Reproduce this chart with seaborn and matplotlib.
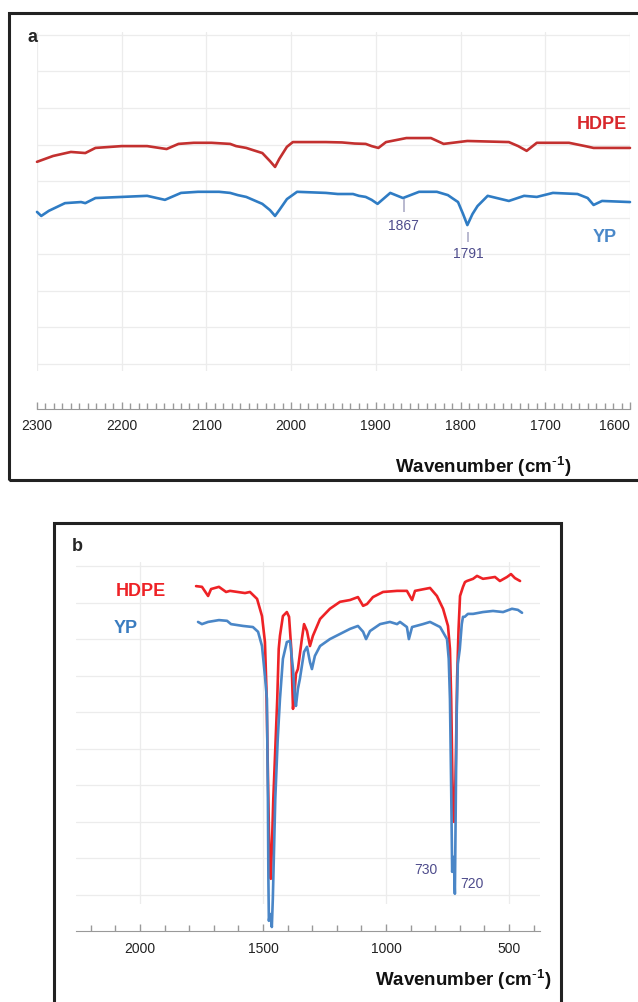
import pandas as pd
import seaborn as sns
import matplotlib.pyplot as plt
from matplotlib.patches import Rectangle
from matplotlib.ticker import MultipleLocator

# ---- panel a: 2300-1600 cm-1 (offset transmittance, a.u.) ----
a_wn_hdpe = [2300, 2281, 2260, 2243, 2231, 2200, 2170, 2147, 2133, 2115, 2094, 2072, 2065, 2053, 2045,
             2034, 2025, 2019, 2014, 2005, 1998, 1959, 1940, 1925, 1912, 1905, 1897, 1888, 1864, 1835,
             1820, 1792, 1743, 1732, 1722, 1710, 1672, 1653, 1643, 1600]
a_hdpe = [55.3, 56.9, 58.0, 57.7, 59.1, 59.6, 59.6, 58.8, 60.2, 60.5, 60.5, 60.2, 59.6, 59.1, 58.5,
          57.7, 55.5, 53.9, 56.1, 59.4, 60.7, 60.7, 60.6, 60.3, 60.2, 59.6, 59.1, 60.7, 61.8, 61.8,
          60.2, 61.0, 60.7, 59.6, 58.3, 60.5, 60.5, 59.6, 59.1, 59.1]
a_wn_yp = [2300, 2295, 2286, 2267, 2248, 2243, 2231, 2200, 2170, 2149, 2130, 2110, 2094, 2085, 2072,
           2063, 2053, 2045, 2034, 2025, 2019, 2014, 2005, 1993, 1959, 1945, 1927, 1920, 1912, 1905,
           1898, 1883, 1868, 1849, 1828, 1815, 1810, 1803, 1797, 1792, 1786, 1780, 1768, 1743, 1725,
           1710, 1691, 1662, 1650, 1643, 1633, 1600]
a_yp = [41.6, 40.5, 41.9, 44.0, 44.3, 44.0, 45.4, 45.7, 46.0, 44.9, 46.8, 47.1, 47.1, 47.1, 46.8,
        46.2, 45.7, 44.9, 43.8, 42.1, 40.5, 42.1, 45.1, 47.1, 46.8, 46.5, 46.5, 46.0, 45.7, 44.9,
        43.8, 46.8, 45.4, 47.1, 47.1, 46.2, 45.4, 44.3, 41.0, 38.0, 41.0, 43.2, 46.0, 44.6, 46.0,
        45.7, 46.8, 46.5, 45.4, 43.5, 44.6, 44.3]
a_ticks = [2300, 2200, 2100, 2000, 1900, 1800, 1700, 1600]
a_peak_wn = [1867, 1791]
a_peak_top = [45.1, 36.1]
a_peak_bot = [41.6, 33.4]
a_peak_text_y = [38.0, 30.4]

# ---- panel b: full range ----
b_wn_hdpe = [1772, 1748, 1723, 1711, 1679, 1650, 1634, 1573, 1553, 1524, 1504, 1492, 1486, 1481, 1476,
             1471, 1468, 1464, 1458, 1450, 1442, 1436, 1431, 1419, 1403, 1394, 1385, 1378, 1372, 1366,
             1358, 1342, 1333, 1321, 1309, 1297, 1268, 1228, 1187, 1146, 1114, 1093, 1077, 1053, 1012,
             955, 915, 894, 882, 821, 793, 768, 748, 740, 735, 730, 725, 721, 716, 711,
             705, 699, 687, 679, 671, 646, 630, 606, 585, 557, 537, 508, 492, 476, 455]
b_hdpe = [84.5, 84.3, 81.8, 83.7, 84.3, 82.9, 83.2, 82.6, 82.9, 81.0, 76.3, 69.2, 56.4, 37.2, 18.1,
          5.7, 4.4, 12.6, 26.3, 39.9, 53.6, 67.3, 70.9, 76.3, 77.4, 76.1, 67.3, 50.9, 55.0, 60.5,
          61.8, 70.0, 74.1, 72.2, 68.1, 70.9, 75.5, 78.3, 80.2, 80.7, 81.5, 79.1, 79.6, 81.5, 82.9,
          83.2, 83.2, 80.7, 83.2, 84.0, 81.8, 78.3, 73.6, 67.3, 53.6, 31.7, 20.0, 20.0, 37.2, 59.1,
          72.8, 81.8, 84.3, 85.6, 85.9, 86.5, 87.3, 86.5, 86.7, 87.0, 85.9, 87.0, 87.8, 86.7, 85.9]
b_wn_yp = [1764, 1748, 1723, 1679, 1646, 1630, 1581, 1541, 1520, 1504, 1492, 1484, 1480, 1478, 1476,
           1472, 1468, 1464, 1460, 1456, 1450, 1440, 1431, 1419, 1403, 1390, 1378, 1370, 1366, 1358,
           1350, 1333, 1321, 1309, 1301, 1289, 1268, 1228, 1187, 1146, 1114, 1093, 1081, 1065, 1024,
           984, 955, 943, 915, 907, 894, 850, 821, 780, 752, 745, 740, 735, 731, 727,
           723, 720, 717, 713, 708, 700, 692, 687, 680, 667, 646, 606, 565, 524, 488, 464, 447]
b_yp = [74.7, 74.1, 74.7, 75.2, 75.0, 74.1, 73.6, 73.3, 72.0, 68.1, 59.9, 53.6, 26.3, 4.4, -7.1,
        -5.2, -6.0, -8.8, -1.1, 9.8, 26.3, 42.7, 53.6, 64.6, 69.2, 69.5, 61.8, 53.6, 51.7, 56.4,
        59.1, 66.5, 67.9, 63.7, 61.8, 65.4, 68.1, 70.0, 71.4, 72.8, 73.6, 72.0, 70.0, 72.2, 74.1,
        74.7, 74.1, 74.7, 73.3, 70.0, 73.3, 74.1, 74.7, 73.3, 70.0, 64.6, 53.6, 29.0, 6.3, 10.4,
        7.1, 0.3, 20.8, 48.2, 63.2, 67.3, 74.1, 76.1, 76.1, 76.9, 76.9, 77.4, 77.7, 77.4, 78.3, 78.0, 77.2]
b_ticks = [2000, 1500, 1000, 500]
b_peak_labels = ["730", "720"]
b_peak_text_x = [837, 650]
b_peak_text_y = [7.1, 3.3]


def make_df(wn1, y1, wn2, y2):
    d1 = pd.DataFrame({"wn": wn1, "T": y1, "sample": "HDPE"})
    d2 = pd.DataFrame({"wn": wn2, "T": y2, "sample": "YP"})
    return pd.concat([d1, d2], ignore_index=True)


df_a = make_df(a_wn_hdpe, a_hdpe, a_wn_yp, a_yp)
df_b = make_df(b_wn_hdpe, b_hdpe, b_wn_yp, b_yp)

sns.set_style("white")
plt.rcParams["font.family"] = ["Liberation Sans", "DejaVu Sans"]
plt.rcParams["mathtext.default"] = "regular"

W, H = 638, 1003
fig = plt.figure(figsize=(W / 100, H / 100), dpi=100)


def box(x0, y0, x1, y1):
    # pixel box (y from top) -> figure fraction
    return [x0 / W, 1 - y1 / H, (x1 - x0) / W, (y1 - y0) / H]


for x0, y0, x1, y1 in [(9, 14, 648, 481), (54, 524, 561, 1015)]:
    l, b, w, h = box(x0, y0, x1, y1)
    fig.add_artist(Rectangle((l, b), w, h, transform=fig.transFigure,
                             fill=False, lw=2.2, ec="#222222"))

ax_a = fig.add_axes(box(37, 33, 630, 372))
ax_b = fig.add_axes(box(76, 563, 540, 905))


def style(ax, xlim, ylim, ticks, minor, outward, pad):
    ax.set_xlim(*xlim)
    ax.set_ylim(*ylim)
    ax.set_xticks(ticks, labels=[str(t) for t in ticks])
    ax.xaxis.set_minor_locator(MultipleLocator(minor))
    ax.yaxis.set_major_locator(MultipleLocator(10))
    ax.grid(True, which="major", color="#ececec", lw=0.9)
    for s in ["top", "right", "left"]:
        ax.spines[s].set_visible(False)
    ax.spines["bottom"].set_position(("outward", outward))
    ax.spines["bottom"].set_color("#999999")
    ax.tick_params(axis="x", which="both", bottom=True, direction="in", color="#999999",
                   width=1, pad=pad, labelsize=10, labelcolor="#222222")
    ax.tick_params(axis="x", which="major", length=5)
    ax.tick_params(axis="x", which="minor", length=4)
    ax.tick_params(axis="y", left=False, labelleft=False)
    ax.set_ylabel("")
    ax.patch.set_alpha(0)


xlabel = "Wavenumber (cm$^{\\text{-}1}$)"

# panel a
sns.lineplot(data=df_a, x="wn", y="T", hue="sample", estimator=None, ax=ax_a,
             palette={"HDPE": "#c3302f", "YP": "#2f7cc4"}, lw=1.9, legend=False, clip_on=False)
style(ax_a, (2300, 1600), (-1.9, 90.8), a_ticks, 10, 27, 7)
for lbl in ax_a.get_xticklabels():
    if lbl.get_text() == "1600":
        lbl.set_ha("right")
ax_a.vlines(a_peak_wn, a_peak_bot, a_peak_top, color="#b9b9cf", lw=1.4)
for wn, ty in zip(a_peak_wn, a_peak_text_y):
    ax_a.text(wn, ty, str(wn), color="#4e4c8c", fontsize=10, ha="center", va="center")
ax_a.text(1604, 65.7, "HDPE", color="#d8282c", fontsize=13, fontweight="bold", ha="right", va="center")
ax_a.text(1616, 35.0, "YP", color="#4a88c9", fontsize=13, fontweight="bold", ha="right", va="center")
ax_a.set_xlabel(xlabel, fontsize=13.5, fontweight="bold", color="#111111")
ax_a.xaxis.set_label_coords(0.752, -0.28)
ax_a.xaxis.label.set_va("center")

# panel b
sns.lineplot(data=df_b, x="wn", y="T", hue="sample", estimator=None, ax=ax_b,
             palette={"HDPE": "#ee2226", "YP": "#4a86c7"}, lw=1.9, legend=False, clip_on=False)
style(ax_b, (2260, 374), (-2.5, 91.1), b_ticks, 100, 19.5, 7)
for lab, tx, ty in zip(b_peak_labels, b_peak_text_x, b_peak_text_y):
    ax_b.text(tx, ty, lab, color="#4e4c8c", fontsize=10, ha="center", va="center")
ax_b.text(1996, 83.4, "HDPE", color="#ee2226", fontsize=13, fontweight="bold", ha="center", va="center")
ax_b.text(2057, 73.3, "YP", color="#3a7cc0", fontsize=13, fontweight="bold", ha="center", va="center")
ax_b.set_xlabel(xlabel, fontsize=13.5, fontweight="bold", color="#111111")
ax_b.xaxis.set_label_coords(0.834, -0.219)
ax_b.xaxis.label.set_va("center")

fig.text(32 / W, 1 - 37 / H, "a", fontsize=13, fontweight="bold", ha="center", va="center")
fig.text(77 / W, 1 - 547 / H, "b", fontsize=13, fontweight="bold", ha="center", va="center")

fig.savefig("out.png", dpi=100, facecolor="white")
